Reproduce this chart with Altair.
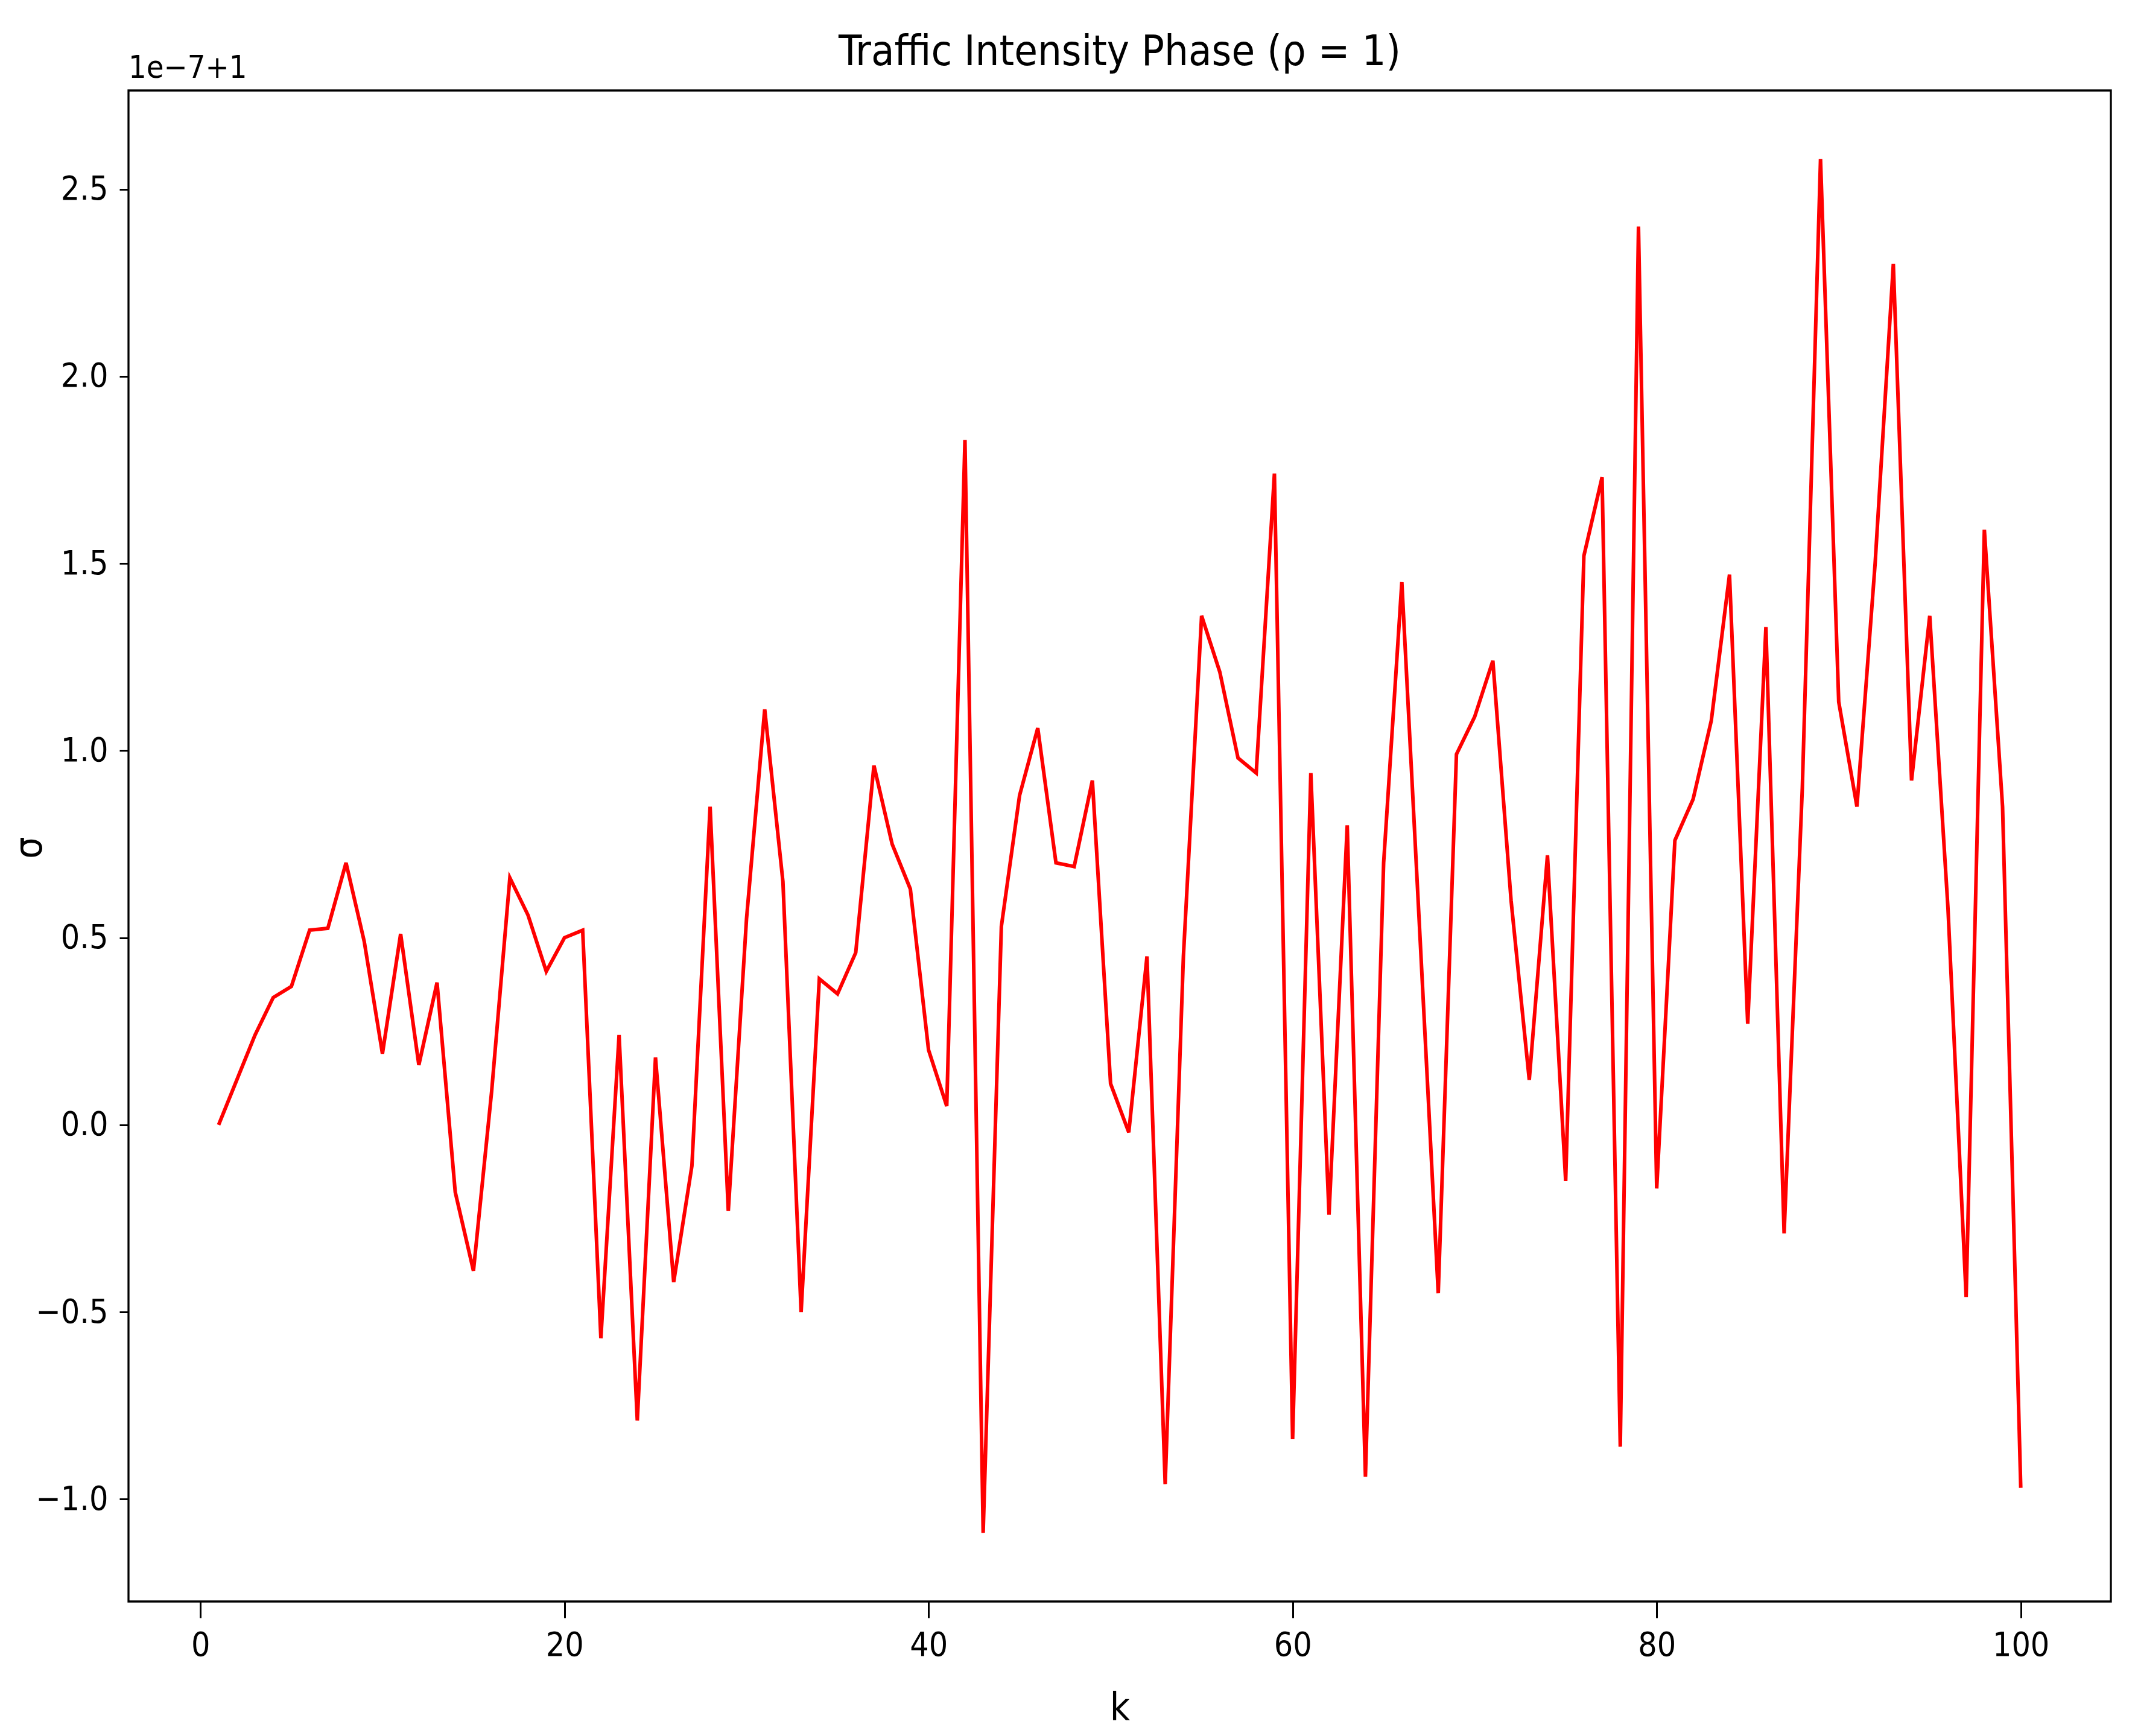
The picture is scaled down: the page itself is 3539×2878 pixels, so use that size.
import altair as alt
import pandas as pd

k_values = list(range(1, 101))
sigma_offset = [
    0.00, 0.12, 0.24, 0.34, 0.37, 0.52, 0.525, 0.70, 0.49, 0.19,
    0.51, 0.16, 0.38, -0.18, -0.39, 0.09, 0.66, 0.56, 0.41, 0.50,
    0.52, -0.57, 0.24, -0.79, 0.18, -0.42, -0.11, 0.85, -0.23, 0.55,
    1.11, 0.65, -0.50, 0.39, 0.35, 0.46, 0.96, 0.75, 0.63, 0.20,
    0.05, 1.83, -1.09, 0.53, 0.88, 1.06, 0.70, 0.69, 0.92, 0.11,
    -0.02, 0.45, -0.96, 0.45, 1.36, 1.21, 0.98, 0.94, 1.74, -0.84,
    0.94, -0.24, 0.80, -0.94, 0.70, 1.45, 0.50, -0.45, 0.99, 1.09,
    1.24, 0.60, 0.12, 0.72, -0.15, 1.52, 1.73, -0.86, 2.40, -0.17,
    0.76, 0.87, 1.08, 1.47, 0.27, 1.33, -0.29, 0.90, 2.58, 1.13,
    0.85, 1.50, 2.30, 0.92, 1.36, 0.58, -0.46, 1.59, 0.85, -0.97,
]
x_ticks = [0, 20, 40, 60, 80, 100]
y_ticks = [-1.0, -0.5, 0.0, 0.5, 1.0, 1.5, 2.0, 2.5]
title_text = ["Traffic Intensity Phase (ρ = 1)"]
offset_text = ["1e\u22127+1"]

FONT = "Liberation Sans Narrow, DejaVu Sans Condensed, DejaVu Sans, sans-serif"
W, H = 3286, 2505

df = pd.DataFrame({"k": k_values, "sigma": sigma_offset})

line = alt.Chart(df).mark_line(color="#ff0000", strokeWidth=6).encode(
    x=alt.X(
        "k:Q",
        scale=alt.Scale(domain=[-3.95, 104.95], nice=False, zero=False),
        axis=alt.Axis(
            values=x_ticks, format="d", title="k", grid=False, domain=False,
            tickSize=27, tickWidth=3, tickColor="black",
            labelFont=FONT, labelFontSize=55, labelColor="black", labelPadding=19,
            titleFont=FONT, titleFontSize=64, titleFontWeight="normal", titleColor="black",
            titleY=196, titleBaseline="alphabetic",
        ),
    ),
    y=alt.Y(
        "sigma:Q",
        scale=alt.Scale(domain=[-1.2735, 2.7635], nice=False, zero=False),
        axis=alt.Axis(
            values=y_ticks, format=".1f", title="σ", grid=False, domain=False,
            labelExpr="replace(datum.label, '-', '\u2212')",
            tickSize=15, tickWidth=3, tickColor="black",
            labelFont=FONT, labelFontSize=55, labelColor="black", labelPadding=19,
            titleFont=FONT, titleFontSize=64, titleFontWeight="normal", titleColor="black",
            titleX=-164, titleY=1255, titleBaseline="middle",
        ),
    ),
)

offset = alt.Chart(pd.DataFrame({"t": offset_text})).mark_text(
    align="left", baseline="alphabetic", font=FONT, fontSize=52, color="black"
).encode(
    text="t:N",
    x=alt.value(0),
    y=alt.value(-21),
)

title = alt.Chart(pd.DataFrame({"t": title_text})).mark_text(
    align="center", baseline="alphabetic", font=FONT, fontSize=70, color="black"
).encode(
    text="t:N",
    x=alt.value(W / 2),
    y=alt.value(-42),
)

chart = alt.layer(line, offset, title).properties(
    width=W,
    height=H,
    autosize=alt.AutoSizeParams(type="none"),
    padding={"left": 205, "top": 142, "right": 30, "bottom": 215},
    background="white",
).configure_view(
    stroke="black", strokeWidth=3.3, fill="white"
)

chart.save("out.html", embed_options={"renderer": "svg", "actions": False})
